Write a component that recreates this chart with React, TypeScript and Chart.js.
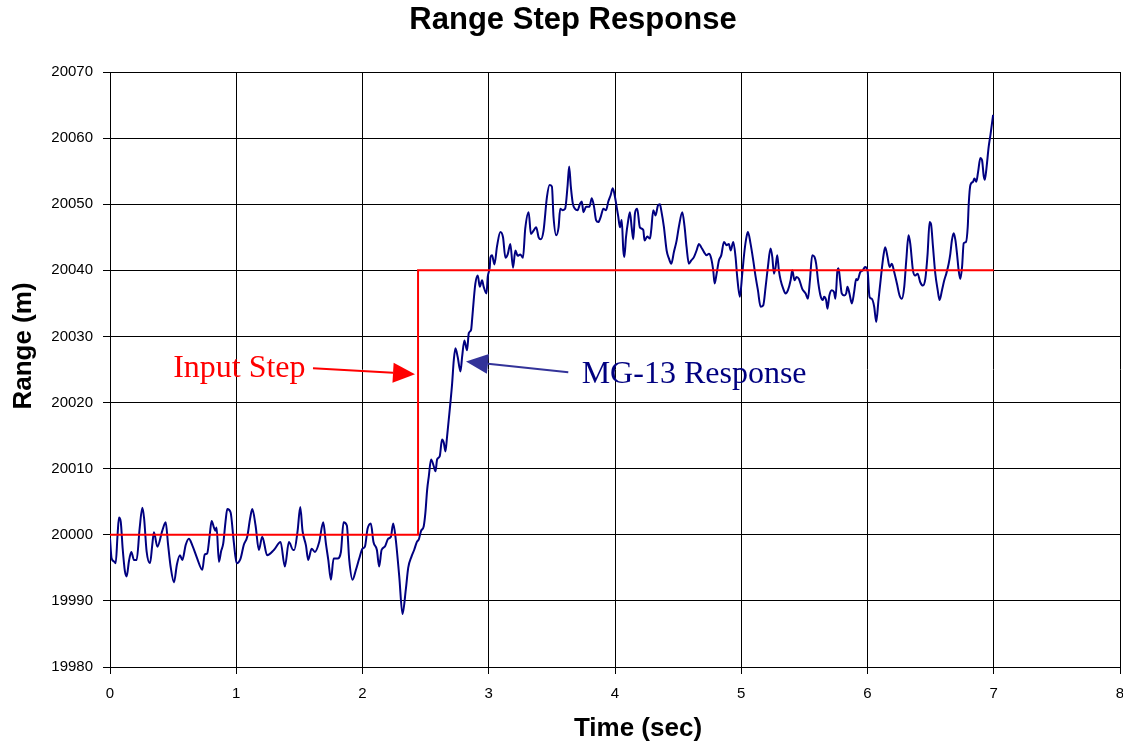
import React, { useEffect, useRef } from "react";
import { Chart, registerables } from "chart.js";

Chart.register(...registerables);

// ---- Data ----
const responseTime = [
  0.0, 0.012, 0.03, 0.045, 0.06, 0.071, 0.085, 0.1, 0.118, 0.132, 0.15, 0.169, 0.19, 0.211, 0.235, 0.256, 0.27, 0.29,
  0.317, 0.335, 0.348, 0.375, 0.414, 0.441, 0.46, 0.48, 0.507, 0.53, 0.554, 0.573, 0.6, 0.625, 0.652, 0.691, 0.731,
  0.75, 0.77, 0.79, 0.805, 0.825, 0.836, 0.844, 0.863, 0.88, 0.897, 0.915, 0.929, 0.955, 0.98, 1.003, 1.034, 1.06,
  1.087, 1.11, 1.127, 1.153, 1.179, 1.206, 1.245, 1.298, 1.351, 1.385, 1.417, 1.451,
  1.459, 1.486, 1.507, 1.525, 1.552, 1.57, 1.597, 1.623, 1.657, 1.689, 1.71, 1.729, 1.75, 1.771, 1.802, 1.829, 1.85,
  1.876, 1.895, 1.921, 1.948, 1.974, 2.0, 2.019, 2.04, 2.066, 2.087, 2.114, 2.132, 2.151, 2.177, 2.203, 2.225, 2.243,
  2.264, 2.291, 2.317, 2.343, 2.362, 2.388, 2.409, 2.43,
  2.446, 2.464, 2.485, 2.498, 2.512, 2.525, 2.543, 2.564, 2.578, 2.591, 2.612, 2.63, 2.644, 2.657, 2.67, 2.683, 2.696,
  2.71, 2.723, 2.736, 2.754, 2.776, 2.789, 2.807, 2.828, 2.842, 2.86, 2.868, 2.881, 2.894, 2.913, 2.929, 2.947, 2.96,
  2.982, 2.992,
  3.008, 3.013, 3.026, 3.045, 3.066, 3.092, 3.113, 3.132, 3.15, 3.171, 3.192, 3.211, 3.229, 3.25, 3.271, 3.289, 3.316,
  3.334, 3.355, 3.376, 3.395, 3.413, 3.434, 3.461, 3.482, 3.5, 3.513, 3.534, 3.553, 3.566, 3.587, 3.605, 3.624, 3.637,
  3.65, 3.666, 3.684, 3.703, 3.724, 3.737, 3.75, 3.771, 3.797, 3.816, 3.834, 3.85, 3.868, 3.887, 3.908, 3.929, 3.947,
  3.966, 3.982, 4.0, 4.013, 4.026, 4.039, 4.053, 4.066, 4.074, 4.087, 4.105, 4.118, 4.132, 4.145, 4.158, 4.176, 4.197,
  4.224, 4.234, 4.255, 4.277, 4.287, 4.303, 4.321, 4.34, 4.356, 4.366, 4.387, 4.409, 4.427, 4.446, 4.467, 4.488, 4.506,
  4.533, 4.551, 4.567, 4.585, 4.604, 4.625, 4.646, 4.665, 4.683, 4.704, 4.725, 4.744, 4.762, 4.778, 4.789, 4.805, 4.823,
  4.842, 4.863, 4.884, 4.902, 4.916, 4.937, 4.955, 4.968, 4.989, 5.008, 5.026, 5.042, 5.053, 5.074, 5.095, 5.114, 5.132,
  5.153, 5.174, 5.193, 5.211, 5.232, 5.246, 5.259, 5.272, 5.285, 5.298, 5.312, 5.333, 5.351, 5.37, 5.391, 5.404, 5.422,
  5.438, 5.457, 5.483, 5.51, 5.528, 5.544, 5.562, 5.581,
  5.593, 5.611, 5.63, 5.646, 5.656, 5.672, 5.683, 5.698, 5.717, 5.735, 5.746, 5.762, 5.77, 5.783, 5.796, 5.815, 5.831,
  5.841, 5.857, 5.876, 5.894, 5.91, 5.921, 5.942, 5.963, 5.981, 6.0, 6.016, 6.034, 6.053, 6.069, 6.087, 6.101, 6.114,
  6.127, 6.14, 6.159, 6.175, 6.193, 6.212, 6.233, 6.254, 6.272, 6.291, 6.307, 6.325, 6.339, 6.36, 6.378, 6.397, 6.418,
  6.439, 6.458, 6.476, 6.492, 6.503, 6.519, 6.537, 6.556, 6.571, 6.59, 6.608, 6.624, 6.643, 6.656, 6.669, 6.683, 6.696,
  6.709, 6.722, 6.735, 6.749, 6.762, 6.78, 6.794, 6.802, 6.815, 6.836, 6.847, 6.862, 6.876, 6.894, 6.907, 6.921, 6.929,
  6.942, 6.96, 6.974, 6.981, 6.995,
];

const responseRange = [
  19999.5, 19996.5, 19996.0, 19995.7, 20000.0, 20002.6, 20002.0, 19998.0, 19994.5, 19993.7, 19996.0, 19997.4, 19996.2,
  19996.2, 20001.0, 20004.1, 20002.5, 19997.5, 19995.7, 19998.5, 20000.4, 19998.2, 20000.6, 20001.9, 19998.5, 19995.2,
  19992.8, 19995.5, 19996.9, 19996.2, 19998.5, 19999.4, 19998.4, 19996.4, 19994.7, 19997.0, 19997.2, 20000.0, 20002.1,
  20001.0, 20000.6, 20001.1, 19995.9, 19997.5, 19998.7, 20002.0, 20003.9, 20003.4, 19999.0, 19995.7, 19996.4, 19998.5,
  19999.7, 20002.5, 20003.9, 20001.4, 19997.7, 19999.7, 19996.9, 19997.7, 19998.9, 19995.2, 19998.9, 19997.7,
  19997.7, 20000.6, 20004.2, 20000.6, 19998.4, 19996.2, 19997.9, 19997.4, 19998.9, 20001.9, 19998.7, 19996.2, 19993.2,
  19996.4, 19996.4, 19997.4, 20001.9, 20001.4, 19996.2, 19993.2, 19994.7, 19996.4, 19997.9, 19998.2, 20000.9, 20001.7,
  19998.9, 19997.7, 19995.2, 19997.7, 19998.2, 19999.4, 19999.7, 20001.7, 19999.2, 19993.7, 19988.0, 19991.7, 19995.0,
  19996.7, 19997.7, 19998.9,
  19999.3, 20000.6, 20001.3, 20003.3, 20006.8, 20008.8, 20011.4, 20010.4, 20009.6, 20011.4, 20011.9, 20014.4, 20013.9,
  20012.6, 20014.9, 20017.4, 20019.9, 20022.9, 20026.4, 20028.2, 20026.9, 20024.7, 20026.9, 20029.4, 20027.9, 20030.5,
  20031.0, 20032.5, 20035.5, 20038.0, 20039.2, 20037.5, 20038.5, 20037.5, 20036.5, 20039.0,
  20040.5, 20041.9, 20042.3, 20040.9, 20043.7, 20045.8, 20045.0, 20041.9, 20042.4, 20044.0, 20040.4, 20043.0, 20042.2,
  20042.4, 20041.9, 20046.3, 20048.8, 20045.5, 20046.0, 20046.5, 20045.0, 20044.7, 20046.0, 20051.1, 20052.9, 20052.7,
  20048.1, 20045.3, 20046.5, 20049.3, 20049.1, 20049.3, 20052.7, 20055.7, 20052.7, 20050.1, 20049.3, 20049.1, 20050.1,
  20050.4, 20048.8, 20049.6, 20049.6, 20050.9, 20049.6, 20047.6, 20047.3, 20048.1, 20049.3, 20049.1, 20050.4, 20051.4,
  20052.4, 20051.1, 20049.6, 20048.1, 20046.5, 20047.6, 20043.0, 20042.0, 20045.0, 20047.6, 20048.8, 20046.5, 20044.7,
  20048.6, 20049.3, 20046.5,
  20046.1, 20044.5, 20045.1, 20044.8, 20046.1, 20049.1, 20048.3, 20049.8, 20050.0, 20049.1, 20046.6, 20043.0, 20041.8,
  20041.0, 20042.8, 20044.5, 20046.6, 20048.8, 20046.6, 20043.5, 20041.0, 20041.5, 20042.0, 20043.0, 20044.0, 20043.5,
  20042.8, 20042.3, 20042.5, 20041.8, 20040.0, 20038.0, 20039.5, 20041.5, 20042.3, 20044.3, 20043.8, 20044.0, 20043.0,
  20044.3, 20042.0, 20039.0, 20036.0, 20039.5, 20043.0, 20045.1, 20045.8, 20044.0, 20041.5, 20039.0, 20037.0, 20034.5,
  20034.7, 20037.5, 20040.5, 20043.3, 20042.0, 20039.5, 20040.5, 20042.3, 20040.0, 20038.5, 20037.2, 20036.5, 20037.0,
  20038.5, 20040.0, 20038.5, 20039.0, 20038.7, 20037.2, 20036.5, 20035.7, 20038.5, 20042.3, 20042.0,
  20041.0, 20038.0, 20036.0, 20035.5, 20036.0, 20035.5, 20034.2, 20036.2, 20037.0, 20036.7, 20035.7, 20040.0, 20040.3,
  20038.5, 20036.5, 20036.2, 20036.5, 20037.5, 20036.5, 20035.0, 20036.7, 20038.7, 20038.5, 20039.7, 20040.0, 20040.5,
  20040.0, 20036.0, 20035.7, 20034.5, 20032.2, 20035.5, 20038.0, 20040.3, 20042.3, 20043.5, 20042.0, 20040.5, 20041.0,
  20039.7, 20038.0, 20036.2, 20035.7, 20037.5, 20041.5, 20045.3, 20044.0, 20040.0, 20039.2, 20039.5, 20038.2, 20037.7,
  20038.7, 20042.5, 20047.3, 20047.0, 20043.5, 20039.5, 20037.0, 20035.5, 20037.0, 20038.5, 20039.5, 20041.0, 20042.5,
  20044.6, 20045.6, 20044.6, 20042.5, 20040.0, 20038.7, 20040.5, 20044.1, 20044.3, 20046.6, 20050.1, 20052.9, 20053.4,
  20053.9, 20053.4, 20054.9, 20057.0, 20056.7, 20054.2, 20053.7, 20055.4, 20058.7, 20060.5, 20061.5, 20063.5,
];

const stepTime = [0, 2.44, 2.44, 7];
const stepRange = [20000, 20000, 20040, 20040];

const xMin = 0;
const xMax = 8;
const xStep = 1;
const yMin = 19980;
const yMax = 20070;
const yStep = 10;

const chartTitle = "Range Step Response";
const xTitle = "Time (sec)";
const yTitle = "Range (m)";
const inputLabel = "Input Step";
const responseLabel = "MG-13 Response";

function drawArrow(ctx: CanvasRenderingContext2D, x1: number, y1: number, x2: number, y2: number, color: string) {
  const ang = Math.atan2(y2 - y1, x2 - x1);
  const len = 22;
  const half = 10;
  const bx = x2 - len * Math.cos(ang);
  const by = y2 - len * Math.sin(ang);
  ctx.strokeStyle = color;
  ctx.lineWidth = 2;
  ctx.beginPath();
  ctx.moveTo(x1, y1);
  ctx.lineTo(bx, by);
  ctx.stroke();
  ctx.fillStyle = color;
  ctx.beginPath();
  ctx.moveTo(x2, y2);
  ctx.lineTo(bx + half * Math.sin(ang), by - half * Math.cos(ang));
  ctx.lineTo(bx - half * Math.sin(ang), by + half * Math.cos(ang));
  ctx.closePath();
  ctx.fill();
}

const overlayPlugin = {
  id: "overlay",
  afterDraw(chart: any) {
    const ctx: CanvasRenderingContext2D = chart.ctx;
    const xs = chart.scales.x;
    const ys = chart.scales.y;
    ctx.save();
    // Title
    ctx.fillStyle = "#000";
    ctx.textAlign = "center";
    ctx.textBaseline = "alphabetic";
    ctx.font = "bold 31px 'Liberation Sans', Arial, sans-serif";
    ctx.fillText(chartTitle, 573, 29);
    // X axis title
    ctx.font = "bold 26px 'Liberation Sans', Arial, sans-serif";
    ctx.fillText(xTitle, 638, 736);
    // Y axis title
    ctx.save();
    ctx.translate(31, 346);
    ctx.rotate(-Math.PI / 2);
    ctx.fillText(yTitle, 0, 0);
    ctx.restore();

    // Annotations
    ctx.textAlign = "left";
    ctx.font = "32px 'Liberation Serif', 'Times New Roman', serif";
    ctx.fillStyle = "#ff0000";
    ctx.fillText(inputLabel, xs.getPixelForValue(0.5), ys.getPixelForValue(20023.8));
    drawArrow(
      ctx,
      xs.getPixelForValue(1.608),
      ys.getPixelForValue(20025.2),
      xs.getPixelForValue(2.416),
      ys.getPixelForValue(20024.3),
      "#ff0000"
    );
    ctx.fillStyle = "#000080";
    ctx.fillText(responseLabel, xs.getPixelForValue(3.736), ys.getPixelForValue(20023.0));
    drawArrow(
      ctx,
      xs.getPixelForValue(3.63),
      ys.getPixelForValue(20024.6),
      xs.getPixelForValue(2.82),
      ys.getPixelForValue(20026.2),
      "#333399"
    );
    ctx.restore();
  },
};

export default function App() {
  const canvasRef = useRef<HTMLCanvasElement | null>(null);

  useEffect(() => {
    const canvas = canvasRef.current;
    if (!canvas) return;
    const stepData = stepTime.map((t, i) => ({ x: t, y: stepRange[i] }));
    const respData = responseTime.map((t, i) => ({ x: t, y: responseRange[i] }));
    const tickFont = { family: "'Liberation Sans', Arial, sans-serif", size: 15 };
    const chart = new Chart(canvas, {
      type: "scatter",
      data: {
        datasets: [
          {
            label: "Input Step",
            data: stepData,
            showLine: true,
            borderColor: "#ff0000",
            borderWidth: 2,
            pointRadius: 0,
            tension: 0,
          },
          {
            label: "MG-13 Response",
            data: respData,
            showLine: true,
            borderColor: "#000080",
            borderWidth: 2,
            pointRadius: 0,
            cubicInterpolationMode: "monotone",
          },
        ],
      },
      options: {
        responsive: false,
        animation: false,
        events: [],
        layout: { padding: { top: 72, right: 3, left: 0, bottom: 0 } },
        plugins: {
          legend: { display: false },
          tooltip: { enabled: false },
          title: { display: false },
        },
        scales: {
          x: {
            type: "linear",
            min: xMin,
            max: xMax,
            ticks: { stepSize: xStep, color: "#000", font: tickFont, padding: 11, maxRotation: 0 },
            grid: { color: "#000", lineWidth: 1, tickLength: 7 },
            border: { color: "#000", width: 1 },
            afterFit: (s: any) => {
              s.height = 77;
              s.paddingLeft = 0;
              s.paddingRight = 0;
            },
          },
          y: {
            type: "linear",
            min: yMin,
            max: yMax,
            ticks: {
              stepSize: yStep,
              color: "#000",
              font: tickFont,
              padding: 10,
              callback: (v: any) => String(v),
            },
            grid: { color: "#000", lineWidth: 1, tickLength: 7 },
            border: { color: "#000", width: 1 },
            afterFit: (s: any) => {
              s.width = 110;
              s.paddingTop = 0;
              s.paddingBottom = 0;
            },
          },
        },
      },
      plugins: [overlayPlugin],
    });
    return () => chart.destroy();
  }, []);

  return (
    <div style={{ position: "fixed", left: 0, top: 0, width: 1123, height: 744, background: "#fff" }}>
      <canvas ref={canvasRef} width={1123} height={744} style={{ width: 1123, height: 744, display: "block" }} />
    </div>
  );
}
